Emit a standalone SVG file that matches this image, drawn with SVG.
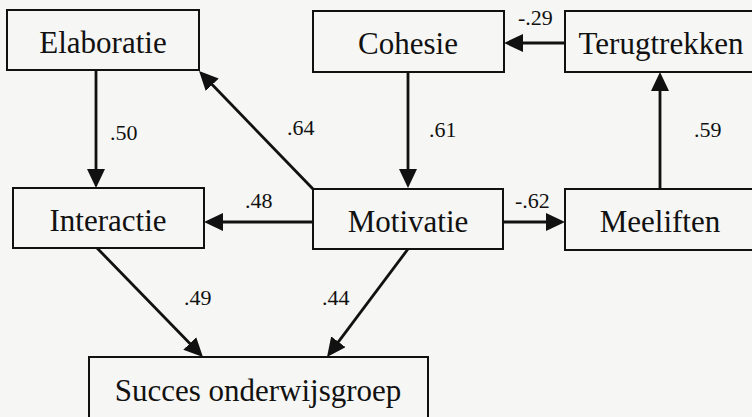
<svg xmlns="http://www.w3.org/2000/svg" width="752" height="417" viewBox="0 0 752 417">
<style>
.box{fill:#f6f6f4;stroke:#111;stroke-width:2}
.t{font-family:"Liberation Serif","Times New Roman",serif;font-size:31px;fill:#111;text-anchor:middle}
.l{font-family:"Liberation Serif","Times New Roman",serif;font-size:22px;fill:#111}
.c{stroke:#111;stroke-width:2.8;fill:none;marker-end:url(#ah)}
</style>
<defs>
<marker id="ah" markerUnits="userSpaceOnUse" markerWidth="19" markerHeight="18" refX="11" refY="9" orient="auto">
<path d="M0,0 L19,9 L0,18 z" fill="#111"/>
</marker>
</defs>
<rect x="0" y="0" width="752" height="417" fill="#f6f6f4"/>
<g id="connectors">
<line class="c" x1="96" y1="70" x2="96" y2="180"/>
<line class="c" x1="313" y1="189" x2="204.6" y2="76.8"/>
<line class="c" x1="408" y1="72" x2="408" y2="180"/>
<line class="c" x1="565" y1="43" x2="512" y2="43"/>
<line class="c" x1="660" y1="188" x2="660" y2="80"/>
<line class="c" x1="313" y1="222" x2="212" y2="222"/>
<line class="c" x1="503" y1="222" x2="557" y2="222"/>
<line class="c" x1="97" y1="248" x2="197.4" y2="351.3"/>
<line class="c" x1="408" y1="249" x2="331.8" y2="350.6"/>
<text class="l" x="110" y="140">.50</text>
<text class="l" x="287" y="135">.64</text>
<text class="l" x="429" y="137">.61</text>
<text class="l" x="694" y="137">.59</text>
<text class="l" x="518" y="25">-.29</text>
<text class="l" x="245" y="208">.48</text>
<text class="l" x="515" y="208">-.62</text>
<text class="l" x="184" y="305">.49</text>
<text class="l" x="322" y="305">.44</text>
</g>
<g id="elaboratie"><rect class="box" x="7" y="10" width="192" height="60"/><text class="t" x="103" y="53">Elaboratie</text></g>
<g id="cohesie"><rect class="box" x="313" y="11" width="191" height="61"/><text class="t" x="408" y="54">Cohesie</text></g>
<g id="terugtrekken"><rect class="box" x="565" y="11" width="192" height="61"/><text class="t" x="661" y="54">Terugtrekken</text></g>
<g id="interactie"><rect class="box" x="13" y="188" width="191" height="60"/><text class="t" x="108" y="231">Interactie</text></g>
<g id="motivatie"><rect class="box" x="313" y="189" width="190" height="60"/><text class="t" x="408" y="232">Motivatie</text></g>
<g id="meeliften"><rect class="box" x="565" y="189" width="192" height="61"/><text class="t" x="660" y="232">Meeliften</text></g>
<g id="succes"><rect class="box" x="89" y="357" width="339" height="70"/><text class="t" x="258" y="401">Succes onderwijsgroep</text></g>
</svg>
